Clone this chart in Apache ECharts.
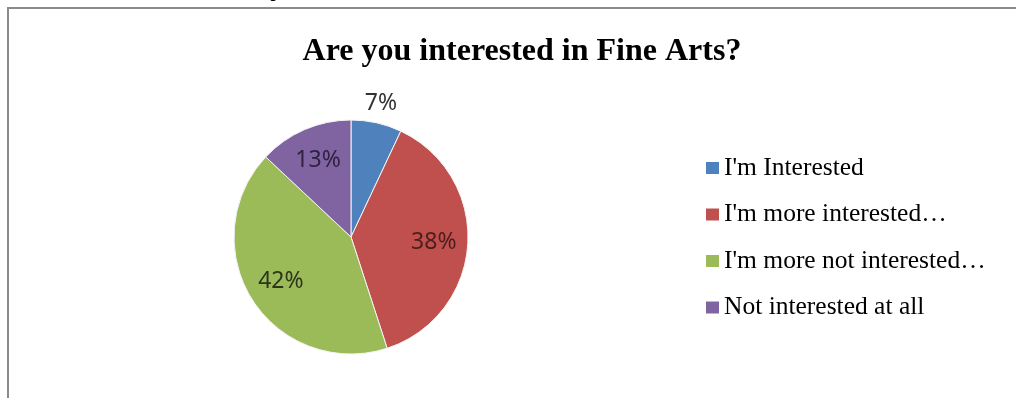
<!DOCTYPE html>
<html>
<head>
<meta charset="utf-8">
<script src="https://cdn.jsdelivr.net/npm/echarts@6/dist/echarts.min.js"></script>
<style>
  html, body { margin: 0; padding: 0; background: #ffffff; }
  #chart { width: 1016px; height: 398px; }
</style>
</head>
<body>
<div id="chart"></div>
<script>
// Survey answers and their share of respondents (%)
const categories = [
  "I'm Interested",
  "I'm more interested\u2026",
  "I'm more not interested\u2026",
  "Not interested at all"
];
const shares = [7, 38, 42, 13];
const sliceColors = ['#4F81BD', '#C0504D', '#9BBB59', '#8064A2'];
const labelColors = ['#333333', '#4a1e1d', '#2b3518', '#2e2142'];

const center = [351, 237];
const pieRadius = 117;

const chart = echarts.init(document.getElementById('chart'), null, { renderer: 'canvas' });

const pieData = categories.map((name, i) => ({
  name: name,
  value: shares[i],
  itemStyle: { color: sliceColors[i] }
}));

// Transparent ring used only to carry the percentage labels
function labelRing(radius, showFor) {
  return {
    type: 'pie',
    center: center,
    radius: radius,
    startAngle: 90,
    clockwise: true,
    silent: true,
    animation: false,
    labelLine: { show: false },
    itemStyle: { color: 'rgba(0,0,0,0)', borderWidth: 0 },
    emphasis: { disabled: true },
    data: categories.map((name, i) => ({
      name: name,
      value: shares[i],
      label: {
        show: showFor(i),
        position: 'inside',
        formatter: '{c}%',
        color: labelColors[i],
        fontFamily: '"Noto Sans", "Open Sans", sans-serif',
        fontSize: 23
      }
    }))
  };
}

chart.setOption({
  backgroundColor: '#ffffff',
  animation: false,
  title: {
    text: 'Are you interested in Fine Arts?',
    left: 517,
    top: 31,
    textAlign: 'center',
    textStyle: {
      fontFamily: '"Liberation Serif", "Times New Roman", serif',
      fontWeight: 'bold',
      fontSize: 32,
      color: '#000000'
    }
  },
  legend: {
    orient: 'vertical',
    left: 701,
    top: 150,
    icon: 'rect',
    itemWidth: 13,
    itemHeight: 12,
    itemGap: 20.5,
    selectedMode: false,
    data: categories,
    itemStyle: { borderWidth: 0 },
    textStyle: {
      fontFamily: '"Liberation Serif", "Times New Roman", serif',
      fontSize: 25.5,
      lineHeight: 25,
      color: '#000000'
    }
  },
  graphic: [
    {
      type: 'polyline',
      silent: true,
      shape: { points: [[8, 398], [8, 8], [1016, 8]] },
      style: { stroke: '#8a8a8a', lineWidth: 2, fill: null }
    },
    {
      type: 'text',
      silent: true,
      left: 270,
      top: -30,
      style: {
        text: 'y',
        font: 'bold 31px "Liberation Serif", serif',
        fill: '#000000'
      }
    }
  ],
  series: [
    {
      name: 'Fine Arts',
      type: 'pie',
      center: center,
      radius: [0, pieRadius],
      startAngle: 90,
      clockwise: true,
      label: { show: false },
      labelLine: { show: false },
      itemStyle: { borderColor: '#f4f4f4', borderWidth: 1 },
      emphasis: { disabled: true },
      data: pieData
    },
    labelRing([43, pieRadius], i => i !== 0),
    labelRing([124, 144], i => i === 0)
  ]
});
</script>
</body>
</html>
